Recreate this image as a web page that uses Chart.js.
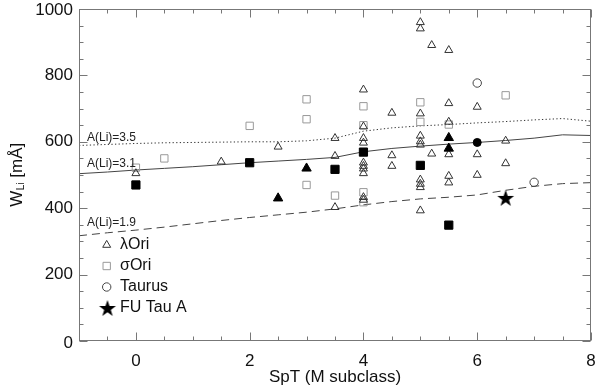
<!DOCTYPE html>
<html><head><meta charset="utf-8">
<script src="https://cdn.jsdelivr.net/npm/chart.js@4/dist/chart.umd.min.js"></script>
<style>html,body{margin:0;padding:0;background:#fff;}</style>
</head><body>
<canvas id="c" width="600" height="388"></canvas>
<script>
// ---- data ----
const xTickValues = [0, 2, 4, 6, 8];
const yTickValues = [0, 200, 400, 600, 800, 1000];

const lambdaOriX = [0, 1.5, 2.5, 3.5, 3.5, 3.5, 4, 4, 4, 4, 4, 4, 4, 4, 4, 4, 4.5, 4.5, 4.5,
  5, 5, 5, 5, 5, 5, 5, 5, 5, 5, 5.2, 5.2, 5.5, 5.5, 5.5, 5.5, 5.5, 5.5, 6, 6, 6, 6.5, 6.5];
const lambdaOriY = [505, 540, 585, 611, 557, 403, 757, 646, 611, 597, 537, 527, 519, 505, 433, 425, 687, 559, 527,
  960, 941, 685, 618, 601, 591, 486, 473, 463, 393, 891, 564, 876, 716, 660, 562, 497, 477, 705, 562, 500, 603, 535];

const sigmaOriX = [0, 0.5, 2, 3, 3, 3, 3.5, 4, 4, 4, 4, 5, 5, 5.5, 6.5];
const sigmaOriY = [522, 550, 648, 728, 668, 470, 438, 707, 650, 448, 418, 719, 660, 652, 740];

const taurusX = [6, 7];
const taurusY = [777, 478];

const fuTauX = [6.5];
const fuTauY = [431];

const filledTriX = [2.5, 3, 5.5, 5.5];
const filledTriY = [430, 520, 612, 580];

const filledSqX = [0, 2, 3.5, 4, 5, 5.5];
const filledSqY = [470, 537, 517, 569, 529, 349];

const filledCircX = [6];
const filledCircY = [598];

const modelX   = [-1, -0.5, 0, 0.5, 1, 1.5, 2, 2.5, 3, 3.5, 4, 4.5, 5, 5.5, 6, 6.5, 7, 7.5, 8];
const model35Y = [589, 592, 595, 597, 598, 599, 600, 600, 603, 611, 632, 642, 648, 652, 657, 661, 666, 670, 662];
const model31Y = [504, 509, 515, 520, 525, 531, 537, 542, 547, 553, 570, 580, 587, 593, 598, 604, 611, 621, 619];
const model19Y = [317, 326, 334, 343, 353, 363, 372, 380, 388, 398, 410, 420, 428, 433, 440, 454, 466, 474, 477];

const modelLabels = ['A(Li)=3.5', 'A(Li)=3.1', 'A(Li)=1.9'];
const legendLabels = ['\u03BBOri', '\u03C3Ori', 'Taurus', 'FU Tau A'];

// ---- helpers ----
function pts(xs, ys) { return xs.map((x, i) => ({ x: x, y: ys[i] })); }
const FONT = '"Liberation Sans", Arial, Helvetica, sans-serif';
Chart.defaults.font.family = FONT;

const starCanvas = (function () {
  const c = document.createElement('canvas');
  c.width = 20; c.height = 20;
  const g = c.getContext('2d');
  g.fillStyle = '#000';
  g.beginPath();
  for (let i = 0; i < 10; i++) {
    const r = (i % 2 === 0) ? 8.8 : 3.5;
    const a = -Math.PI / 2 + i * Math.PI / 5;
    const px = 10 + r * Math.cos(a), py = 10.8 + r * Math.sin(a);
    if (i === 0) g.moveTo(px, py); else g.lineTo(px, py);
  }
  g.closePath();
  g.fill();
  return c;
})();

const TRANSP = 'rgba(0,0,0,0)';
const AXIS_COLOR = '#777';
const TEXT_COLOR = '#111';

const framePlugin = {
  id: 'frame',
  afterDraw(chart) {
    const ctx = chart.ctx;
    const a = chart.chartArea;
    const xs = chart.scales.x, ys = chart.scales.y;
    ctx.save();
    // frame
    ctx.strokeStyle = AXIS_COLOR;
    ctx.lineWidth = 1;
    const L = Math.round(a.left) + 0.5, R = Math.round(a.right) - 0.5;
    const T = Math.round(a.top) + 0.5, B = Math.round(a.bottom) - 0.5;
    ctx.strokeRect(L, T, R - L, B - T);
    // ticks (inward, all four sides)
    ctx.beginPath();
    for (let v = xs.min; v <= xs.max + 1e-9; v += 0.5) {
      const major = xTickValues.indexOf(v) >= 0;
      const len = major ? 8 : 4;
      const px = Math.round(xs.getPixelForValue(v)) + 0.5;
      ctx.moveTo(px, B); ctx.lineTo(px, B - len);
      ctx.moveTo(px, T); ctx.lineTo(px, T + len);
    }
    for (let v = ys.min; v <= ys.max + 1e-9; v += 50) {
      const major = yTickValues.indexOf(v) >= 0;
      const len = major ? 8 : 4;
      const py = Math.round(ys.getPixelForValue(v)) + 0.5;
      ctx.moveTo(L, py); ctx.lineTo(L + len, py);
      ctx.moveTo(R, py); ctx.lineTo(R - len, py);
    }
    ctx.stroke();

    // y tick labels
    ctx.fillStyle = TEXT_COLOR;
    ctx.font = '17px ' + FONT;
    ctx.textAlign = 'right';
    ctx.textBaseline = 'middle';
    ys.ticks.forEach(t => {
      let py = ys.getPixelForValue(t.value);
      py = Math.max(py, 10.5);
      if (py > a.bottom - 2) py += 2;
      ctx.fillText(String(t.value), a.left - 6, py);
    });

    // y title  W_Li [mÅ]
    ctx.save();
    ctx.translate(22, (a.top + a.bottom) / 2);
    ctx.rotate(-Math.PI / 2);
    ctx.textAlign = 'left';
    ctx.textBaseline = 'alphabetic';
    const f1 = '17px ' + FONT, f2 = '10px ' + FONT;
    ctx.font = f1; const wW = ctx.measureText('W').width;
    ctx.font = f2; const wLi = ctx.measureText('Li').width;
    ctx.font = f1; const wR = ctx.measureText(' [m\u00C5]').width;
    let u = -(wW + wLi + wR) / 2;
    ctx.font = f1; ctx.fillText('W', u, 0); u += wW;
    ctx.font = f2; ctx.fillText('Li', u + 0.5, 1.5); u += wLi + 0.5;
    ctx.font = f1; ctx.fillText(' [m\u00C5]', u, 0);
    ctx.restore();

    // model labels
    ctx.font = '12px ' + FONT;
    ctx.textAlign = 'left';
    ctx.textBaseline = 'alphabetic';
    ctx.fillStyle = '#222';
    const lineSets = [model35Y, model31Y, model19Y];
    const offs = [4.5, 7, 10];
    const lx = xs.getPixelForValue(-0.86);
    lineSets.forEach((arr, i) => {
      const py = ys.getPixelForValue(arr[0]) - offs[i];
      ctx.fillText(modelLabels[i], lx, py);
    });

    // legend
    const rows = [245, 266, 287, 308];
    ctx.font = '16px ' + FONT;
    ctx.textBaseline = 'middle';
    for (let i = 0; i < 4; i++) {
      const ds = chart.data.datasets[i];
      const symX = i === 3 ? 107.5 : 106.7;
      ctx.save();
      ctx.strokeStyle = ds.pointBorderColor;
      ctx.fillStyle = ds.pointBackgroundColor;
      ctx.lineWidth = 1;
      Chart.helpers.drawPoint(ctx, {
        pointStyle: ds.pointStyle, radius: ds.pointRadius, rotation: 0, borderWidth: 1
      }, symX, rows[i]);
      ctx.restore();
      ctx.fillStyle = TEXT_COLOR;
      ctx.fillText(legendLabels[i], 120, rows[i]);
    }
    ctx.restore();
  }
};

new Chart(document.getElementById('c').getContext('2d'), {
  type: 'scatter',
  data: {
    datasets: [
      { label: legendLabels[0], data: pts(lambdaOriX, lambdaOriY), pointStyle: 'triangle', pointRadius: 4.6,
        pointBorderColor: '#333', pointBackgroundColor: TRANSP, pointBorderWidth: 1, order: 2 },
      { label: legendLabels[1], data: pts(sigmaOriX, sigmaOriY), pointStyle: 'rect', pointRadius: 5.2,
        pointBorderColor: '#999', pointBackgroundColor: TRANSP, pointBorderWidth: 1, order: 3 },
      { label: legendLabels[2], data: pts(taurusX, taurusY), pointStyle: 'circle', pointRadius: 4.2,
        pointBorderColor: '#444', pointBackgroundColor: TRANSP, pointBorderWidth: 1, order: 2 },
      { label: legendLabels[3], data: pts(fuTauX, fuTauY), pointStyle: starCanvas, pointRadius: 8,
        pointBorderColor: '#000', pointBackgroundColor: '#000', order: 1 },
      { label: 'filled triangles', data: pts(filledTriX, filledTriY), pointStyle: 'triangle', pointRadius: 5.4,
        pointBorderColor: '#000', pointBackgroundColor: '#000', pointBorderWidth: 1, order: 1 },
      { label: 'filled squares', data: pts(filledSqX, filledSqY), pointStyle: 'rect', pointRadius: 5.8,
        pointBorderColor: '#000', pointBackgroundColor: '#000', pointBorderWidth: 1, order: 1 },
      { label: 'filled circles', data: pts(filledCircX, filledCircY), pointStyle: 'circle', pointRadius: 4,
        pointBorderColor: '#000', pointBackgroundColor: '#000', pointBorderWidth: 1, order: 1 },
      { type: 'line', label: modelLabels[0], data: pts(modelX, model35Y), borderColor: '#333', borderWidth: 1,
        borderDash: [1.3, 2.3], pointRadius: 0, showLine: true, fill: false, tension: 0, order: 10 },
      { type: 'line', label: modelLabels[1], data: pts(modelX, model31Y), borderColor: '#444', borderWidth: 1,
        pointRadius: 0, showLine: true, fill: false, tension: 0, order: 10 },
      { type: 'line', label: modelLabels[2], data: pts(modelX, model19Y), borderColor: '#444', borderWidth: 1,
        borderDash: [8, 5], pointRadius: 0, showLine: true, fill: false, tension: 0, order: 10 }
    ]
  },
  options: {
    responsive: false,
    animation: false,
    devicePixelRatio: 1,
    layout: { padding: { left: 0, top: 4, right: 5, bottom: 0 } },
    plugins: { legend: { display: false }, tooltip: { enabled: false } },
    scales: {
      x: {
        type: 'linear', min: -1, max: 8,
        grid: { display: false }, border: { display: false },
        afterBuildTicks: s => { s.ticks = xTickValues.map(v => ({ value: v })); },
        afterFit: s => { s.height = 47; s.paddingLeft = 0; s.paddingRight = 0; s.paddingTop = 0; s.paddingBottom = 0; },
        ticks: { font: { size: 17 }, color: TEXT_COLOR, padding: 2, maxRotation: 0, autoSkip: false },
        title: { display: true, text: 'SpT (M subclass)', font: { size: 17 }, color: TEXT_COLOR, padding: { top: 0, bottom: 0 } }
      },
      y: {
        type: 'linear', min: 0, max: 1000,
        grid: { display: false }, border: { display: false },
        afterBuildTicks: s => { s.ticks = yTickValues.map(v => ({ value: v })); },
        afterFit: s => { s.width = 79; s.paddingTop = 0; s.paddingBottom = 0; s.paddingLeft = 0; s.paddingRight = 0; },
        ticks: { display: false }
      }
    }
  },
  plugins: [framePlugin]
});
</script>
</body></html>
